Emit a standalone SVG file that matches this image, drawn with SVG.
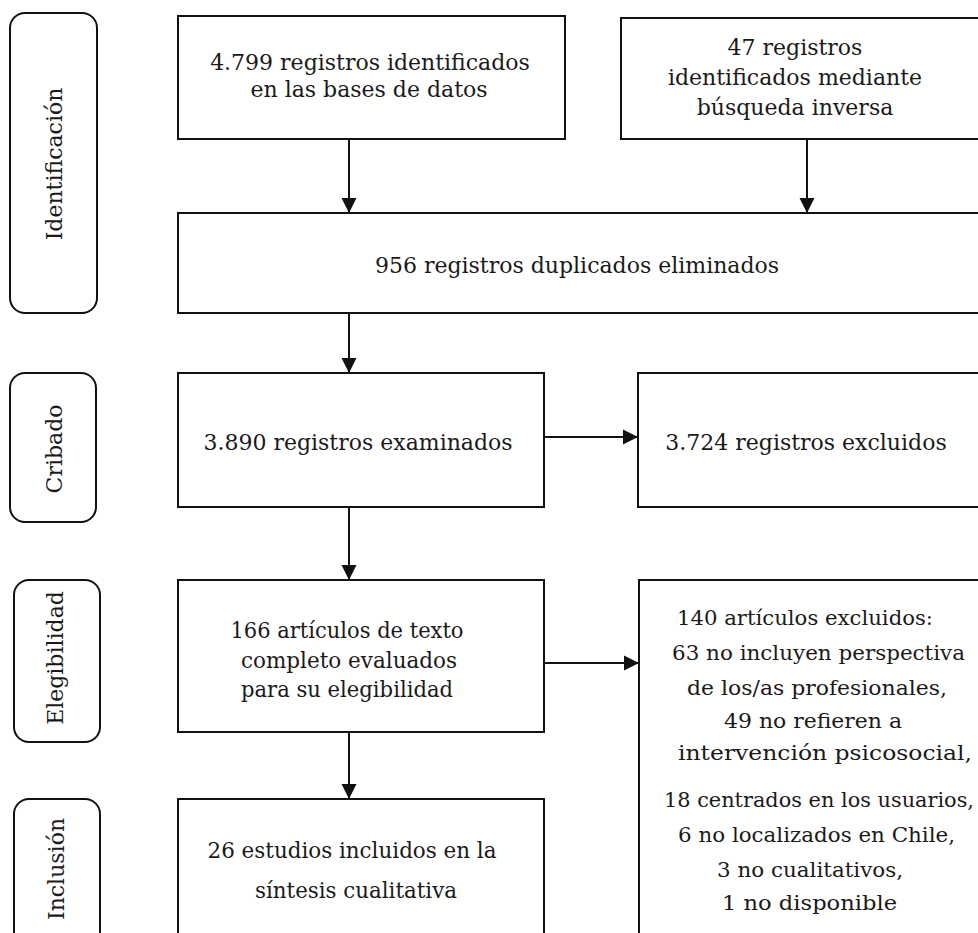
<svg xmlns="http://www.w3.org/2000/svg" width="978" height="933" viewBox="0 0 978 933">
<style>
  .box { fill: #ffffff; stroke: #111111; stroke-width: 2; }
  .lbl { fill: #ffffff; stroke: #111111; stroke-width: 2; }
  .t { font-family: "DejaVu Serif", "Liberation Serif", serif; font-size: 22px; fill: #1a1a1a; text-anchor: middle; }
  .s { font-size: 21px; }
  .c { stroke: #111111; stroke-width: 2; fill: none; }
</style>
<defs>
  <marker id="ah" markerUnits="userSpaceOnUse" markerWidth="16" markerHeight="16" viewBox="0 0 16 16" refX="15" refY="8" orient="auto">
    <path d="M0,0.5 L15,8 L0,15.5 Z" fill="#111111"/>
  </marker>
</defs>
<rect width="978" height="933" fill="#ffffff"/>

<g id="stage-identificacion">
  <rect class="lbl" x="10" y="13" width="87" height="300" rx="15"/>
  <text class="t" transform="translate(62,164) rotate(-90)">Identificación</text>
</g>
<g id="stage-cribado">
  <rect class="lbl" x="10" y="373" width="86" height="149" rx="15"/>
  <text class="t" transform="translate(62,449) rotate(-90)">Cribado</text>
</g>
<g id="stage-elegibilidad">
  <rect class="lbl" x="14" y="580" width="86" height="162" rx="15"/>
  <text class="t" transform="translate(63,658) rotate(-90)">Elegibilidad</text>
</g>
<g id="stage-inclusion">
  <rect class="lbl" x="14" y="799" width="86" height="200" rx="15"/>
  <text class="t" transform="translate(64,869) rotate(-90)">Inclusión</text>
</g>

<g id="n-db">
  <rect class="box" x="178" y="16" width="387" height="123"/>
  <text class="t" x="370" y="70">4.799 registros identificados</text>
  <text class="t" x="369" y="97">en las bases de datos</text>
</g>
<g id="n-inverse">
  <rect class="box" x="621" y="18" width="420" height="121"/>
  <text class="t" x="795" y="55">47 registros</text>
  <text class="t" x="795" y="85">identificados mediante</text>
  <text class="t" x="795" y="115">búsqueda inversa</text>
</g>
<g id="n-dup">
  <rect class="box" x="178" y="213" width="860" height="100"/>
  <text class="t" x="577" y="273">956 registros duplicados eliminados</text>
</g>
<g id="n-screened">
  <rect class="box" x="178" y="373" width="366" height="134"/>
  <text class="t" x="358" y="450">3.890 registros examinados</text>
</g>
<g id="n-excluded">
  <rect class="box" x="638" y="373" width="420" height="134"/>
  <text class="t" x="806" y="450">3.724 registros excluidos</text>
</g>
<g id="n-fulltext">
  <rect class="box" x="178" y="580" width="366" height="152"/>
  <text class="t" x="347" y="638" textLength="233" lengthAdjust="spacingAndGlyphs">166 artículos de texto</text>
  <text class="t" x="349" y="668" textLength="216" lengthAdjust="spacingAndGlyphs">completo evaluados</text>
  <text class="t" x="347" y="697" textLength="212" lengthAdjust="spacingAndGlyphs">para su elegibilidad</text>
</g>
<g id="n-fulltext-excluded">
  <rect class="box" x="639" y="580" width="420" height="420"/>
  <text class="t s" x="805" y="625" textLength="256" lengthAdjust="spacingAndGlyphs">140 artículos excluidos:</text>
  <text class="t s" x="818.5" y="660" textLength="293" lengthAdjust="spacingAndGlyphs">63 no incluyen perspectiva</text>
  <text class="t s" x="817" y="695" textLength="260" lengthAdjust="spacingAndGlyphs">de los/as profesionales,</text>
  <text class="t s" x="813" y="728" textLength="178" lengthAdjust="spacingAndGlyphs">49 no refieren a</text>
  <text class="t s" x="825" y="760" textLength="294" lengthAdjust="spacingAndGlyphs">intervención psicosocial,</text>
  <text class="t s" x="819" y="807" textLength="310" lengthAdjust="spacingAndGlyphs">18 centrados en los usuarios,</text>
  <text class="t s" x="816.5" y="842" textLength="277" lengthAdjust="spacingAndGlyphs">6 no localizados en Chile,</text>
  <text class="t s" x="810" y="877" textLength="186" lengthAdjust="spacingAndGlyphs">3 no cualitativos,</text>
  <text class="t s" x="809.5" y="910" textLength="175" lengthAdjust="spacingAndGlyphs">1 no disponible</text>
</g>
<g id="n-included">
  <rect class="box" x="178" y="799" width="366" height="200"/>
  <text class="t" x="352" y="858" textLength="289" lengthAdjust="spacingAndGlyphs">26 estudios incluidos en la</text>
  <text class="t" x="356" y="898" textLength="202" lengthAdjust="spacingAndGlyphs">síntesis cualitativa</text>
</g>

<g id="connectors">
  <line class="c" x1="349" y1="139" x2="349" y2="213" marker-end="url(#ah)"/>
  <line class="c" x1="807" y1="139" x2="807" y2="213" marker-end="url(#ah)"/>
  <line class="c" x1="349" y1="313" x2="349" y2="373" marker-end="url(#ah)"/>
  <line class="c" x1="544" y1="437" x2="638" y2="437" marker-end="url(#ah)"/>
  <line class="c" x1="349" y1="507" x2="349" y2="580" marker-end="url(#ah)"/>
  <line class="c" x1="544" y1="663" x2="639" y2="663" marker-end="url(#ah)"/>
  <line class="c" x1="349" y1="732" x2="349" y2="799" marker-end="url(#ah)"/>
</g>
</svg>
